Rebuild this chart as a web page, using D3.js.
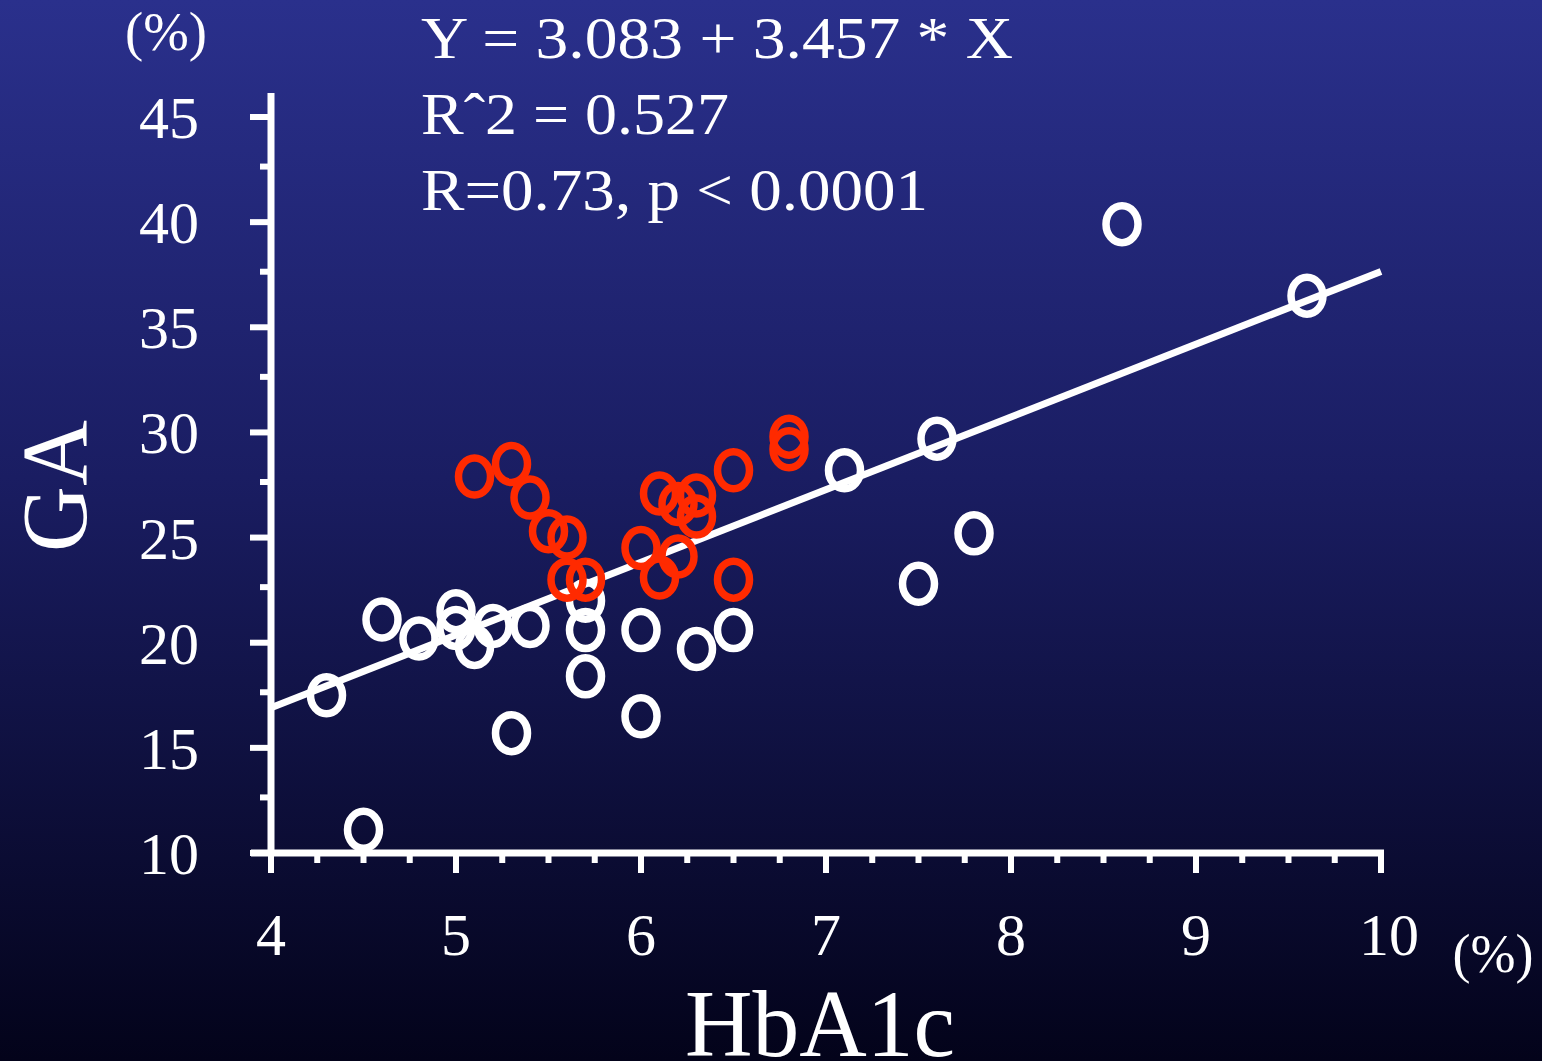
<!DOCTYPE html>
<html>
<head>
<meta charset="utf-8">
<script src="https://cdn.jsdelivr.net/npm/d3@7"></script>
<style>
	html, body { margin: 0; padding: 0; background: #000; }
	svg { display: block; }
	text { font-family: "Liberation Serif", "DejaVu Serif", serif; fill: #fff; }
</style>
</head>
<body>
<svg id="chart"></svg>
<script>
/*=================
=== Data
=================*/
// white (group 1) points: HbA1c, GA
var whiteHbA1c = [4.3, 4.5, 4.6, 4.8, 5.0, 5.0, 5.1, 5.2, 5.4, 5.3, 5.7, 5.7, 5.7, 6.0, 6.0, 6.3, 6.5, 7.1, 7.5, 7.6, 7.8, 8.6, 9.6];
var whiteGA    = [17.5, 11.1, 21.1, 20.2, 21.5, 20.7, 19.8, 20.8, 20.8, 15.7, 22.0, 20.6, 18.4, 20.6, 16.5, 19.7, 20.6, 28.2, 22.8, 29.7, 25.2, 39.9, 36.5];

// red (group 2) points
var redHbA1c = [5.1, 5.3, 5.4, 5.5, 5.6, 5.6, 5.7, 6.0, 6.1, 6.2, 6.3, 6.3, 6.2, 6.1, 6.5, 6.5, 6.8, 6.8];
var redGA    = [27.9, 28.5, 26.9, 25.3, 25.0, 23.0, 23.0, 24.5, 27.1, 26.6, 27.0, 26.0, 24.1, 23.1, 28.2, 23.0, 29.8, 29.2];

// regression
var intercept = 3.083;
var slope = 3.457;

var xTicks = [4, 5, 6, 7, 8, 9, 10];
var yTicks = [10, 15, 20, 25, 30, 35, 40, 45];
var annoLines = ['Y = 3.083 + 3.457 * X', 'R\u02C62 = 0.527', 'R=0.73, p < 0.0001'];

/*=================
=== Setup
=================*/
var W = 1542, H = 1061;
var svg = d3.select('#chart').attr('width', W).attr('height', H);

var defs = svg.append('defs');
var grad = defs.append('linearGradient')
	.attr('id', 'bg')
	.attr('x1', 0).attr('y1', 0).attr('x2', 0).attr('y2', 1);
grad.append('stop').attr('offset', '0%').attr('stop-color', '#2a308c');
grad.append('stop').attr('offset', '45%').attr('stop-color', '#1a1d62');
grad.append('stop').attr('offset', '100%').attr('stop-color', '#03031a');

svg.append('rect').attr('width', W).attr('height', H).attr('fill', 'url(#bg)');

var x = d3.scaleLinear().domain([4, 10]).range([271, 1381]);
var y = d3.scaleLinear().domain([10, 45]).range([853, 117]);

/*=================
=== Axes
=================*/
var axisG = svg.append('g').attr('class', 'axes');

// y axis line (runs above 45)
axisG.append('line')
	.attr('x1', x(4)).attr('x2', x(4))
	.attr('y1', 93).attr('y2', y(10) + 3)
	.attr('stroke', '#fff').attr('stroke-width', 7);

// x axis line
axisG.append('line')
	.attr('x1', x(4) - 20).attr('x2', x(10) + 3)
	.attr('y1', y(10)).attr('y2', y(10))
	.attr('stroke', '#fff').attr('stroke-width', 7);

// y major ticks
axisG.selectAll('.ymaj')
	.data(yTicks)
	.enter()
	.append('line')
	.attr('class', 'ymaj')
	.attr('x1', x(4) - 21).attr('x2', x(4))
	.attr('y1', d => y(d)).attr('y2', d => y(d))
	.attr('stroke', '#fff').attr('stroke-width', 6);

// y minor ticks
axisG.selectAll('.ymin')
	.data(d3.range(12.5, 45, 5))
	.enter()
	.append('line')
	.attr('class', 'ymin')
	.attr('x1', x(4) - 11).attr('x2', x(4))
	.attr('y1', d => y(d) - 3).attr('y2', d => y(d) - 3)
	.attr('stroke', '#fff').attr('stroke-width', 6);

// x major ticks
axisG.selectAll('.xmaj')
	.data(xTicks)
	.enter()
	.append('line')
	.attr('class', 'xmaj')
	.attr('x1', d => x(d)).attr('x2', d => x(d))
	.attr('y1', y(10)).attr('y2', y(10) + 20)
	.attr('stroke', '#fff').attr('stroke-width', 6);

// x minor ticks
axisG.selectAll('.xmin')
	.data(d3.range(4.25, 10, 0.25).filter(d => Math.abs(d - Math.round(d)) > 0.01))
	.enter()
	.append('line')
	.attr('class', 'xmin')
	.attr('x1', d => x(d)).attr('x2', d => x(d))
	.attr('y1', y(10)).attr('y2', y(10) + 10)
	.attr('stroke', '#fff').attr('stroke-width', 6);

// tick labels
axisG.selectAll('.ylab')
	.data(yTicks)
	.enter()
	.append('text')
	.attr('class', 'ylab')
	.attr('x', 199)
	.attr('y', d => y(d) + 21)
	.attr('text-anchor', 'end')
	.attr('font-size', 60)
	.text(d => d);

axisG.selectAll('.xlab')
	.data(xTicks)
	.enter()
	.append('text')
	.attr('class', 'xlab')
	.attr('x', d => x(d) + (d === 10 ? 8 : 0))
	.attr('y', 955)
	.attr('text-anchor', 'middle')
	.attr('font-size', 60)
	.text(d => d);

// units
svg.append('text').attr('x', 166).attr('y', 50).attr('text-anchor', 'middle')
	.attr('font-size', 54).attr('textLength', 82).attr('lengthAdjust', 'spacingAndGlyphs')
	.text('(%)');
svg.append('text').attr('x', 1493).attr('y', 972).attr('text-anchor', 'middle')
	.attr('font-size', 54).attr('textLength', 81).attr('lengthAdjust', 'spacingAndGlyphs')
	.text('(%)');

// axis titles
svg.append('text')
	.attr('transform', 'translate(86,486) rotate(-90)')
	.attr('text-anchor', 'middle')
	.attr('font-size', 94)
	.attr('textLength', 132)
	.attr('lengthAdjust', 'spacingAndGlyphs')
	.text('GA');

svg.append('text')
	.attr('x', 820).attr('y', 1056)
	.attr('text-anchor', 'middle')
	.attr('font-size', 96)
	.attr('textLength', 270)
	.attr('lengthAdjust', 'spacingAndGlyphs')
	.text('HbA1c');

// regression annotation
var annoWidths = [592, 308, 507];
svg.selectAll('.anno')
	.data(annoLines)
	.enter()
	.append('text')
	.attr('class', 'anno')
	.attr('x', 421)
	.attr('y', (d, i) => 58 + i * 76)
	.attr('font-size', 60)
	.attr('textLength', (d, i) => annoWidths[i])
	.attr('lengthAdjust', 'spacingAndGlyphs')
	.text(d => d);

/*=================
=== Marks
=================*/
var whiteData = whiteHbA1c.map((v, i) => ({ hb: v, ga: whiteGA[i] }));
var redData = redHbA1c.map((v, i) => ({ hb: v, ga: redGA[i] }));

svg.append('g')
	.selectAll('ellipse')
	.data(whiteData)
	.enter()
	.append('ellipse')
	.attr('cx', d => x(d.hb))
	.attr('cy', d => y(d.ga))
	.attr('rx', 16)
	.attr('ry', 18.5)
	.attr('fill', 'none')
	.attr('stroke', '#fff')
	.attr('stroke-width', 7.5);

var fitLine = d3.line()
	.x(d => x(d))
	.y(d => y(intercept + slope * d));

svg.append('path')
	.datum([4, 10])
	.attr('d', fitLine)
	.attr('fill', 'none')
	.attr('stroke', '#fff')
	.attr('stroke-width', 7);

svg.append('g')
	.selectAll('ellipse')
	.data(redData)
	.enter()
	.append('ellipse')
	.attr('cx', d => x(d.hb))
	.attr('cy', d => y(d.ga))
	.attr('rx', 16)
	.attr('ry', 18.5)
	.attr('fill', 'none')
	.attr('stroke', '#ff2a00')
	.attr('stroke-width', 7.5);
</script>
</body>
</html>
